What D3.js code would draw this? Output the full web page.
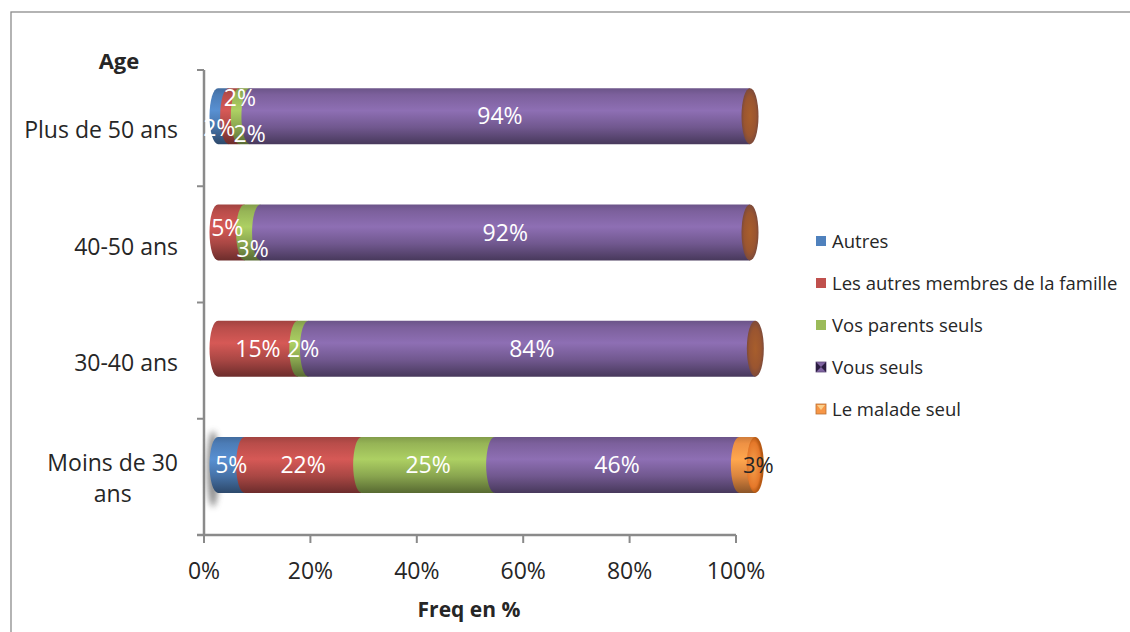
<!DOCTYPE html>
<html><head><meta charset="utf-8">
<script src="https://cdn.jsdelivr.net/npm/d3@7"></script>
<style>html,body{margin:0;padding:0;background:#fff;}svg{display:block;font-family:"Open Sans",sans-serif;}</style>
</head><body>
<svg id="c" width="1130" height="632"></svg>
<script>
const categories = ["Plus de 50 ans", "40-50 ans", "30-40 ans", "Moins de 30 ans"];
const seriesNames = ["Autres", "Les autres membres de la famille", "Vos parents seuls", "Vous seuls", "Le malade seul"];
const autres = [2, 0, 0, 5];
const autresMembres = [2, 5, 15, 22];
const vosParents = [2, 3, 2, 25];
const vousSeuls = [94, 92, 84, 46];
const maladeSeul = [0, 0, 0, 3];
const xTickValues = [0, 20, 40, 60, 80, 100];
const seriesColors = ["#4F81BD", "#C0504D", "#9BBB59", "#8064A2", "#F79646"];

const seriesValues = [autres, autresMembres, vosParents, vousSeuls, maladeSeul];
const svg = d3.select("#c");
const defs = svg.append("defs");

// chart border
svg.append("rect").attr("x", 11).attr("y", 12).attr("width", 1130).attr("height", 640)
  .attr("fill", "none").attr("stroke", "#8c8c8c").attr("stroke-width", 1.3);

const x = d3.scaleLinear().domain([0, 100]).range([204, 736]);
const y = d3.scaleBand().domain(categories).range([70, 535]);
const depthX = 14, depthY = -12;
const barH = 56, rx = 8.5;

// gradients
seriesColors.forEach((c, i) => {
  const g = defs.append("linearGradient").attr("id", "g" + i).attr("x1", 0).attr("x2", 0).attr("y1", 0).attr("y2", 1);
  const base = d3.color(c);
  g.append("stop").attr("offset", 0).attr("stop-color", base.darker(0.5));
  g.append("stop").attr("offset", 0.12).attr("stop-color", base.darker(0.1));
  g.append("stop").attr("offset", 0.4).attr("stop-color", base.brighter(0.3));
  g.append("stop").attr("offset", 0.7).attr("stop-color", base.darker(0.35));
  g.append("stop").attr("offset", 1).attr("stop-color", base.darker(1.6));
});
const capG = defs.append("radialGradient").attr("id", "capBrown");
capG.append("stop").attr("offset", 0).attr("stop-color", "#a85e2c");
capG.append("stop").attr("offset", 0.7).attr("stop-color", "#9a5530");
capG.append("stop").attr("offset", 1).attr("stop-color", "#7d4a3a");
const capO = defs.append("radialGradient").attr("id", "capOrange").attr("cx", 0.4);
capO.append("stop").attr("offset", 0).attr("stop-color", "#f7a04c");
capO.append("stop").attr("offset", 0.8).attr("stop-color", "#e5782a");
capO.append("stop").attr("offset", 1).attr("stop-color", "#b85a14");
const blur = defs.append("filter").attr("id", "blur").attr("x", -1).attr("y", -1).attr("width", 3).attr("height", 3);
blur.append("feGaussianBlur").attr("stdDeviation", 3);

// axes
const axisColor = "#8a8a8a";
const ax = svg.append("g");
ax.append("line").attr("x1", x(0)).attr("x2", x(0)).attr("y1", y.range()[0]).attr("y2", y.range()[1])
  .attr("stroke", axisColor).attr("stroke-width", 2.5);
ax.append("line").attr("x1", x(0) - 7).attr("x2", x(100)).attr("y1", y.range()[1]).attr("y2", y.range()[1])
  .attr("stroke", axisColor).attr("stroke-width", 2.5);
const yTickPos = categories.map(c => y(c)).concat([y.range()[1]]);
yTickPos.forEach(p => ax.append("line").attr("x1", x(0) - 7).attr("x2", x(0)).attr("y1", p).attr("y2", p)
  .attr("stroke", axisColor).attr("stroke-width", 2));
xTickValues.forEach(v => {
  ax.append("line").attr("x1", x(v)).attr("x2", x(v)).attr("y1", y.range()[1]).attr("y2", y.range()[1] + 8)
    .attr("stroke", axisColor).attr("stroke-width", 2);
  ax.append("text").attr("x", x(v)).attr("y", 579).attr("text-anchor", "middle")
    .attr("font-size", 23).attr("fill", "#262626").text(v + "%");
});
svg.append("text").attr("x", 469).attr("y", 617).attr("text-anchor", "middle").attr("font-weight", "bold")
  .attr("font-size", 21).attr("fill", "#262626").text("Freq en %");
svg.append("text").attr("x", 119).attr("y", 69).attr("text-anchor", "middle").attr("font-weight", "bold")
  .attr("font-size", 22).attr("fill", "#262626").text("Age");

// category labels (wrapped)
categories.forEach(c => {
  const cy = y(c) + y.bandwidth() / 2 + 2;
  const t = svg.append("text").attr("font-size", 23).attr("fill", "#262626").attr("text-anchor", "end")
    .attr("x", 178).attr("y", cy).attr("dy", "0.36em").text(c);
  if (t.node().getComputedTextLength() > 160) {
    const words = c.split(" ");
    const l1 = words.slice(0, -1).join(" "), l2 = words[words.length - 1];
    t.text(null);
    const a = t.append("tspan").text(l1);
    const w = a.node().getComputedTextLength();
    const cx = 178 - w / 2;
    t.attr("text-anchor", "middle").attr("dy", null);
    a.attr("x", cx).attr("y", cy - 8);
    t.append("tspan").attr("x", cx).attr("y", cy + 23).text(l2);
  }
});

// bars
const x0 = v => x(v) + depthX;
const staggerY = {2: [-5, 16], 3: [12, -18, 18]};
const staggerX = {2: [-4, 0], 3: [-4, 6, 5]};
categories.forEach((c, ci) => {
  const cy = y(c) + y.bandwidth() / 2 + depthY;
  const top = cy - barH / 2, bot = cy + barH / 2;
  const g = svg.append("g");
  const total = d3.sum(seriesValues, s => s[ci]);
  if (ci === categories.length - 1) {
    g.append("ellipse").attr("cx", x0(0) - 5).attr("cy", cy + 4).attr("rx", 6).attr("ry", 38)
      .attr("fill", "#666").attr("opacity", 0.75).attr("filter", "url(#blur)");
  }
  let cum = 0;
  const labels = [];
  seriesValues.forEach((s, si) => {
    const v = s[ci];
    const a = x0(cum), b = x0(cum + v);
    if (v > 0) {
      const p = `M${a},${top}L${b},${top}L${b},${bot}L${a},${bot}A${rx},${barH / 2} 0 0 1 ${a},${top}Z`;
      g.append("path").attr("d", p).attr("fill", `url(#g${si})`);
      labels.push({si, v, cx: (a + b) / 2});
    }
    cum += v;
  });
  // end cap
  const last = seriesValues[seriesValues.length - 1][ci];
  g.append("ellipse").attr("cx", x0(total)).attr("cy", cy).attr("rx", rx).attr("ry", barH / 2)
    .attr("fill", last > 0 ? "url(#capOrange)" : "url(#capBrown)");
  // labels with stagger for crowded ones
  const inner = labels.filter(l => l.si < seriesValues.length - 1);
  const groups = [];
  inner.forEach(l => {
    const g0 = groups[groups.length - 1];
    if (g0 && l.cx - g0[g0.length - 1].cx < 24) g0.push(l); else groups.push([l]);
  });
  groups.forEach(gr => {
    const n = gr.length;
    const offs = n > 1 ? (staggerY[n] || gr.map((d, i) => (i % 2 ? -16 : 16))) : [0];
    const offx = n > 1 ? (staggerX[n] || gr.map(() => 0)) : [0];
    gr.forEach((l, i) => {
      g.append("text").attr("x", l.cx + offx[i]).attr("y", cy + offs[i]).attr("dy", "0.36em").attr("text-anchor", "middle")
        .attr("font-size", 23).attr("fill", "#fff").text(l.v + "%");
    });
  });
  labels.filter(l => l.si === seriesValues.length - 1).forEach(l => {
    g.append("text").attr("x", x0(total) + 3).attr("y", cy).attr("dy", "0.36em").attr("text-anchor", "middle")
      .attr("font-size", 22).attr("fill", "#262626").text(l.v + "%");
  });
});

// legend
const leg = svg.append("g");
seriesNames.forEach((n, i) => {
  const ly = 241 + i * 42;
  leg.append("rect").attr("x", 816).attr("y", ly - 5).attr("width", 10).attr("height", 10)
    .attr("fill", seriesColors[i]).attr("stroke", d3.color(seriesColors[i]).darker(0.8)).attr("stroke-width", i >= 3 ? 0.8 : 0);
  if (i === 3) {
    leg.append("path").attr("d", `M816,${ly - 5}L821,${ly}L816,${ly + 5}Z M826,${ly - 5}L821,${ly}L826,${ly + 5}Z`).attr("fill", "#2b1d40");
  }
  if (i === 4) {
    leg.append("path").attr("d", `M817,${ly - 4}L825,${ly - 4}L821,${ly + 1}Z`).attr("fill", "#fbd08c");
  }
  leg.append("text").attr("x", 832).attr("y", ly).attr("dy", "0.36em").attr("font-size", 18.5)
    .attr("fill", "#262626").text(n);
});
</script>
</body></html>
